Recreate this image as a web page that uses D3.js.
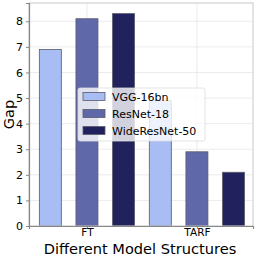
<!DOCTYPE html>
<html>
<head>
<meta charset="utf-8">
<script src="https://cdn.jsdelivr.net/npm/d3@7"></script>
<style>
  body { margin: 0; background: #fff; }
  text { font-family: "DejaVu Sans", sans-serif; fill: #000; }
</style>
</head>
<body>
<div id="chart"></div>
<script>
// data
const categories = ['FT', 'TARF'];
const seriesNames = ['VGG-16bn', 'ResNet-18', 'WideResNet-50'];
const vgg = [6.9, 4.9];
const resnet = [8.1, 2.9];
const wideresnet = [8.3, 2.1];
const yTicks = [0, 1, 2, 3, 4, 5, 6, 7, 8];

const colors = ['#a7bdf3', '#5f69a9', '#20215d'];

const width = 257, height = 259;
const margin = { top: 3, right: 4, bottom: 33, left: 29 };
const innerW = width - margin.left - margin.right;
const innerH = height - margin.top - margin.bottom;

const series = [vgg, resnet, wideresnet];

const svg = d3.select('#chart').append('svg')
  .attr('width', width)
  .attr('height', height);

const g = svg.append('g')
  .attr('transform', 'translate(' + margin.left + ',' + margin.top + ')');

// linear x in "group" units like matplotlib
const x = d3.scaleLinear().domain([-0.527, 1.51]).range([0, innerW]);
const y = d3.scaleLinear().domain([0, 8.715]).range([innerH, 0]);
const offset = 0.333, barW = 0.2;

// grid
g.append('g')
  .selectAll('line')
  .data(yTicks)
  .enter().append('line')
  .attr('x1', 0).attr('x2', innerW)
  .attr('y1', d => y(d)).attr('y2', d => y(d))
  .attr('stroke', '#e6e6e6').attr('stroke-width', 0.8);

g.append('g')
  .selectAll('line')
  .data(categories)
  .enter().append('line')
  .attr('x1', (d, i) => x(i)).attr('x2', (d, i) => x(i))
  .attr('y1', 0).attr('y2', innerH)
  .attr('stroke', '#e6e6e6').attr('stroke-width', 0.8);

// bars
series.forEach((vals, s) => {
  g.selectAll('.bar' + s)
    .data(vals)
    .enter().append('rect')
    .attr('class', 'bar' + s)
    .attr('x', (d, i) => x(i + (s - 1) * offset - barW / 2))
    .attr('y', d => y(d))
    .attr('width', x(barW) - x(0))
    .attr('height', d => innerH - y(d))
    .attr('fill', colors[s])
    .attr('stroke', '#5a5a6a')
    .attr('stroke-width', 0.8);
});

// frame
g.append('rect')
  .attr('x', 0).attr('y', 0)
  .attr('width', innerW).attr('height', innerH)
  .attr('fill', 'none')
  .attr('stroke', '#c8c8c8').attr('stroke-width', 1);

// axes
const yAxis = g.append('g')
  .call(d3.axisLeft(y).tickValues(yTicks).tickSize(3).tickPadding(3));
yAxis.select('.domain').attr('stroke', '#888').attr('stroke-width', 1.2);
yAxis.selectAll('.tick line').attr('stroke', '#888');
yAxis.selectAll('text').style('font-size', '11px');

const xAxis = g.append('g')
  .attr('transform', 'translate(0,' + innerH + ')')
  .call(d3.axisBottom(x).tickValues([0, 1]).tickFormat((d, i) => categories[i]).tickSize(3).tickPadding(0));
xAxis.select('.domain').attr('stroke', '#888').attr('stroke-width', 1.2);
xAxis.selectAll('.tick line').attr('stroke', '#888');
xAxis.selectAll('text').style('font-size', '10.5px').attr('dy', '0.68em');

// axis titles
svg.append('text')
  .attr('x', margin.left + innerW / 2 - 1)
  .attr('y', 254)
  .attr('text-anchor', 'middle')
  .style('font-size', '14.6px')
  .text('Different Model Structures');

svg.append('text')
  .attr('transform', 'translate(14,' + (margin.top + innerH / 2) + ') rotate(-90)')
  .attr('text-anchor', 'middle')
  .style('font-size', '14.6px')
  .text('Gap');

// legend
const legend = svg.append('g').attr('transform', 'translate(78,88)');
legend.append('rect')
  .attr('width', 127).attr('height', 53)
  .attr('rx', 2)
  .attr('fill', 'rgba(255,255,255,0.8)')
  .attr('stroke', '#dcdcdc').attr('stroke-width', 0.8);

seriesNames.forEach((name, i) => {
  legend.append('rect')
    .attr('x', 5).attr('y', 4.5 + i * 17)
    .attr('width', 22).attr('height', 8)
    .attr('fill', colors[i])
    .attr('stroke', '#5a5a6a').attr('stroke-width', 0.8);
  legend.append('text')
    .attr('x', 34).attr('y', 13 + i * 17)
    .style('font-size', '11px')
    .text(name);
});
</script>
</body>
</html>
